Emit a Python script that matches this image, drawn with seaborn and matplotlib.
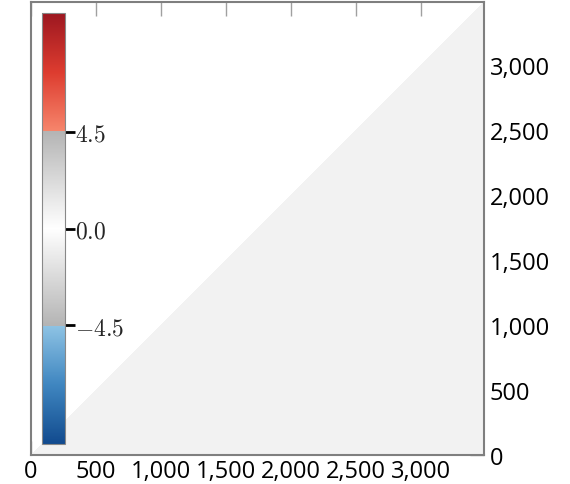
import numpy as np
import pandas as pd
import seaborn as sns
import matplotlib
matplotlib.use("Agg")
import matplotlib.pyplot as plt
from matplotlib.colors import LinearSegmentedColormap

# ---- data ----
matrix_size = 3485          # number of rows / columns in the matrix
cell_units = 5              # each drawn cell covers this many rows/cols
fill_value = 0.8            # near-zero values in the lower triangle (light grey)
x_ticks = [0, 500, 1000, 1500, 2000, 2500, 3000]
y_ticks = [0, 500, 1000, 1500, 2000, 2500, 3000]
cbar_ticks = [-4.5, 0.0, 4.5]
cbar_labels = [r"$-4.5$", r"$0.0$", r"$4.5$"]
vmin, vmax = -10, 10

n = matrix_size // cell_units
data = np.full((n, n), fill_value)
mask = np.tril(np.ones((n, n), dtype=bool), k=-1)   # keep cells with col >= row
df = pd.DataFrame(data)

# ---- colormap ----
lo = (-4.5 - vmin) / (vmax - vmin)
hi = (4.5 - vmin) / (vmax - vmin)
anchors = [
    (0.0, "#114a8e"),
    (lo * 0.5, "#3f86c0"),
    (lo - 1e-4, "#8ec3e4"),
    (lo, "#b4b4b4"),
    (0.5, "#ffffff"),
    (hi, "#b4b4b4"),
    (hi + 1e-4, "#f6866c"),
    (hi + (1 - hi) * 0.5, "#dd3c2f"),
    (1.0, "#9c1720"),
]
cmap = LinearSegmentedColormap.from_list("custom", anchors, N=2048)

sns.set_style("white")
plt.rcParams["mathtext.fontset"] = "cm"
plt.rcParams["font.family"] = ["Open Sans", "DejaVu Sans"]

fig = plt.figure(figsize=(5.7, 4.85), dpi=100)
ax = fig.add_axes([31 / 570, 1 - 456 / 485, 453 / 570, 453 / 485])
cax = fig.add_axes([42 / 570, 1 - 445 / 485, 23 / 570, 431 / 485])

sns.heatmap(df, mask=mask, cmap=cmap, vmin=vmin, vmax=vmax, ax=ax, cbar_ax=cax,
            xticklabels=False, yticklabels=False, rasterized=True)

ax.set_xlim(0, n)
ax.set_ylim(0, n)
for s in ax.spines.values():
    s.set_visible(True)
    s.set_color("#7f7f7f")
    s.set_linewidth(1.5)

ax.set_xticks([t / cell_units for t in x_ticks])
ax.set_xticklabels([f"{t:,}" for t in x_ticks])
ax.set_yticks([t / cell_units for t in y_ticks])
ax.set_yticklabels([f"{t:,}" for t in y_ticks])
ax.yaxis.tick_right()
ax.tick_params(axis="both", which="both", direction="in", length=10, width=1,
               color="#a0a0a0", labelsize=17, labelcolor="black")
ax.tick_params(axis="x", top=True, bottom=True, labeltop=False, pad=3)
ax.tick_params(axis="y", right=True, left=False, labelleft=False, pad=4)
ax.set_xlabel("")
ax.set_ylabel("")

cbar = ax.collections[0].colorbar
cbar.set_ticks(cbar_ticks)
cbar.set_ticklabels(cbar_labels)
cbar.ax.tick_params(direction="out", length=7, width=2, color="black",
                    labelsize=17, pad=0)
cbar.outline.set_edgecolor("#888888")
cbar.outline.set_linewidth(0.8)

fig.savefig("out.png", dpi=100)
